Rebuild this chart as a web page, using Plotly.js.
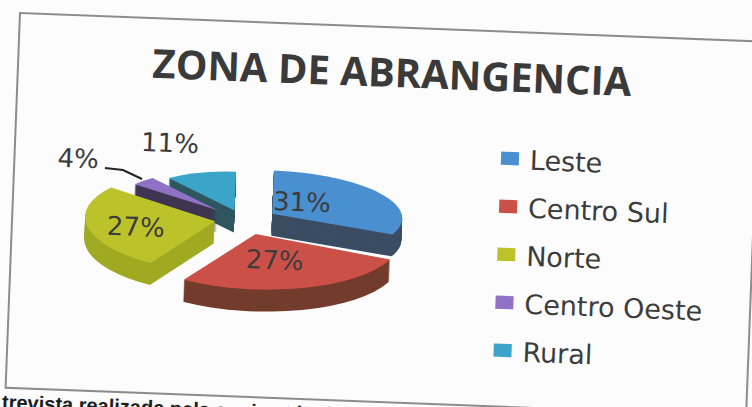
<!DOCTYPE html>
<html>
<head>
<meta charset="utf-8">
<script src="https://cdn.plot.ly/plotly-3.0.1.min.js"></script>
<style>
html,body{margin:0;padding:0;width:752px;height:407px;overflow:hidden;background:#fdfcfc}
#chart{position:absolute;left:-124px;top:-97px;width:1000px;height:600px;transform:rotate(2.2deg);transform-origin:50% 50%}
</style>
</head>
<body>
<div id="chart"></div>
<script>
const titleText = 'ZONA DE ABRANGENCIA';
const categories = ['Leste', 'Centro Sul', 'Norte', 'Centro Oeste', 'Rural'];
const values = [31, 27, 27, 4, 11];
const topColors = ['#4a8fd0', '#cb5048', '#bcc32a', '#8f72c6', '#3ba4c9'];
const sideColors = ['#3b4d63', '#733c2c', '#a0aa22', '#3f3652', '#30565f'];
const pulls = [0.27, 0.30, 0.22, 0.27, 0.20];
const perspX = [1, 1.12, 1, 0.8, 0.81];
const perspY = [0.9, 1.15, 1.05, 0.8, 0.81];
const footerText = 'trevista realizada pela equipe técnica';

const W = 1000, H = 600, OX = 124, OY = 97, TH = 2.2 * Math.PI / 180;
// reference-screen position -> unrotated div pixel
function un(px, py) {
  const dx = px - 376, dy = py - 203, c = Math.cos(TH), s = Math.sin(TH);
  return [376 + dx * c + dy * s + OX, 203 - dx * s + dy * c + OY];
}
function paper(px, py) { const u = un(px, py); return [u[0] / W, 1 - u[1] / H]; }

const R = 130, SQUASH = 0.37, DEPTH = 22, STEP = 1;
const C = un(243, 220);
const half = R * (1 + Math.max(...pulls));
const domain = {x: [(C[0] - half) / W, (C[0] + half) / W], y: [1 - (C[1] + half) / H, 1 - (C[1] - half) / H]};
function pie(colors, legend) {
  return {type: 'pie', labels: categories, values: values, sort: false, direction: 'clockwise', rotation: 0,
    pull: pulls, domain: domain, textinfo: 'none', showlegend: legend, hoverinfo: 'skip',
    marker: {colors: colors, line: {width: 0}}};
}
const traces = [];
const offsets = [];
for (let d = DEPTH; d > 0; d -= STEP) { traces.push(pie(sideColors, false)); offsets.push(d); }
traces.push(pie(topColors, true)); offsets.push(0);

function label(i, sx, sy) {
  const p = paper(sx, sy);
  return {xref: 'paper', yref: 'paper', x: p[0], y: p[1], xanchor: 'center', yanchor: 'middle', showarrow: false,
    text: values[i] + '%', font: {family: 'DejaVu Sans', size: 26, color: '#3c3c3c'}};
}
const foot = paper(0, 402);
const ttl = paper(392, 73);
const legU = un(510, 158.5);
const L0 = paper(142, 179), L1 = paper(123, 170), L2 = paper(105, 168);
function toPath(a) { return a.map((q, i) => (i ? 'L' : 'M') + q[0] + ',' + q[1]).join(' '); }
const tl = un(20, 13), br = [tl[0] + 741, tl[1] + 375];

const layout = {
  width: W, height: H, margin: {l: 0, r: 0, t: 0, b: 0},
  paper_bgcolor: 'rgba(0,0,0,0)', plot_bgcolor: 'rgba(0,0,0,0)',
  title: {text: titleText, x: ttl[0], y: ttl[1], xref: 'paper', yref: 'paper', xanchor: 'center', yanchor: 'middle',
    font: {family: 'Open Sans', size: 40, weight: 700, color: '#3a3a3a'}},
  legend: {x: (legU[0] - 20) / W, y: 1 - (legU[1] - 20) / H, xanchor: 'left', yanchor: 'top', borderwidth: 0,
    bgcolor: 'rgba(0,0,0,0)', font: {family: 'DejaVu Sans', size: 27, color: '#3c3c3c'}},
  shapes: [
    {type: 'rect', xref: 'paper', yref: 'paper', x0: tl[0] / W, x1: br[0] / W, y0: 1 - tl[1] / H, y1: 1 - br[1] / H,
      line: {color: '#8c8c8c', width: 2}, fillcolor: 'rgba(0,0,0,0)', layer: 'below'},
    {type: 'path', xref: 'paper', yref: 'paper', path: toPath([L0, L1, L2]),
      line: {color: '#222222', width: 2}}
  ],
  annotations: [
    label(0, 302, 202), label(1, 275, 260), label(2, 136, 227), label(3, 78, 159), label(4, 170, 143),
    {xref: 'paper', yref: 'paper', x: foot[0], y: foot[1], xanchor: 'left', yanchor: 'middle', showarrow: false,
      text: '<b>' + footerText + '</b>', font: {family: 'Liberation Sans', size: 20, color: '#1c1c1c'}}
  ]
};
Plotly.newPlot('chart', traces, layout, {staticPlot: true, displayModeBar: false}).then(function (gd) {
  const total = values.reduce((a, b) => a + b, 0);
  let run = 0;
  const apex = values.map(function (v, i) {
    const mid = (run + v / 2) / total * 2 * Math.PI; run += v;
    return [C[0] + pulls[i] * R * Math.sin(mid), C[1] - pulls[i] * R * Math.cos(mid)];
  });
  gd.querySelectorAll('.pielayer .trace').forEach(function (g, i) {
    const dz = offsets[i] || 0;
    g.setAttribute('transform', 'translate(' + C[0] + ',' + (C[1] + dz) + ') scale(1,' + SQUASH + ') translate(' + (-C[0]) + ',' + (-C[1]) + ')');
    g.querySelectorAll('.slice').forEach(function (s, k) {
      const a = apex[k];
      s.setAttribute('transform', 'translate(' + a[0] + ',' + a[1] + ') scale(' + perspX[k] + ',' + perspY[k] + ') translate(' + (-a[0]) + ',' + (-a[1]) + ')');
    });
  });
  const box = gd.querySelector('.legend .scrollbox');
  if (box) box.removeAttribute('clip-path');
  gd.querySelectorAll('.legend .traces').forEach(function (t, i) {
    t.setAttribute('transform', 'translate(0,' + (20 + 48 * i) + ')');
    const sw = t.querySelector('.legendpoints path');
    if (sw) {
      const base = sw.getAttribute('transform') || '';
      sw.setAttribute('transform', base + ' scale(1.5,1.1)');
    }
  });
});
</script>
</body>
</html>
